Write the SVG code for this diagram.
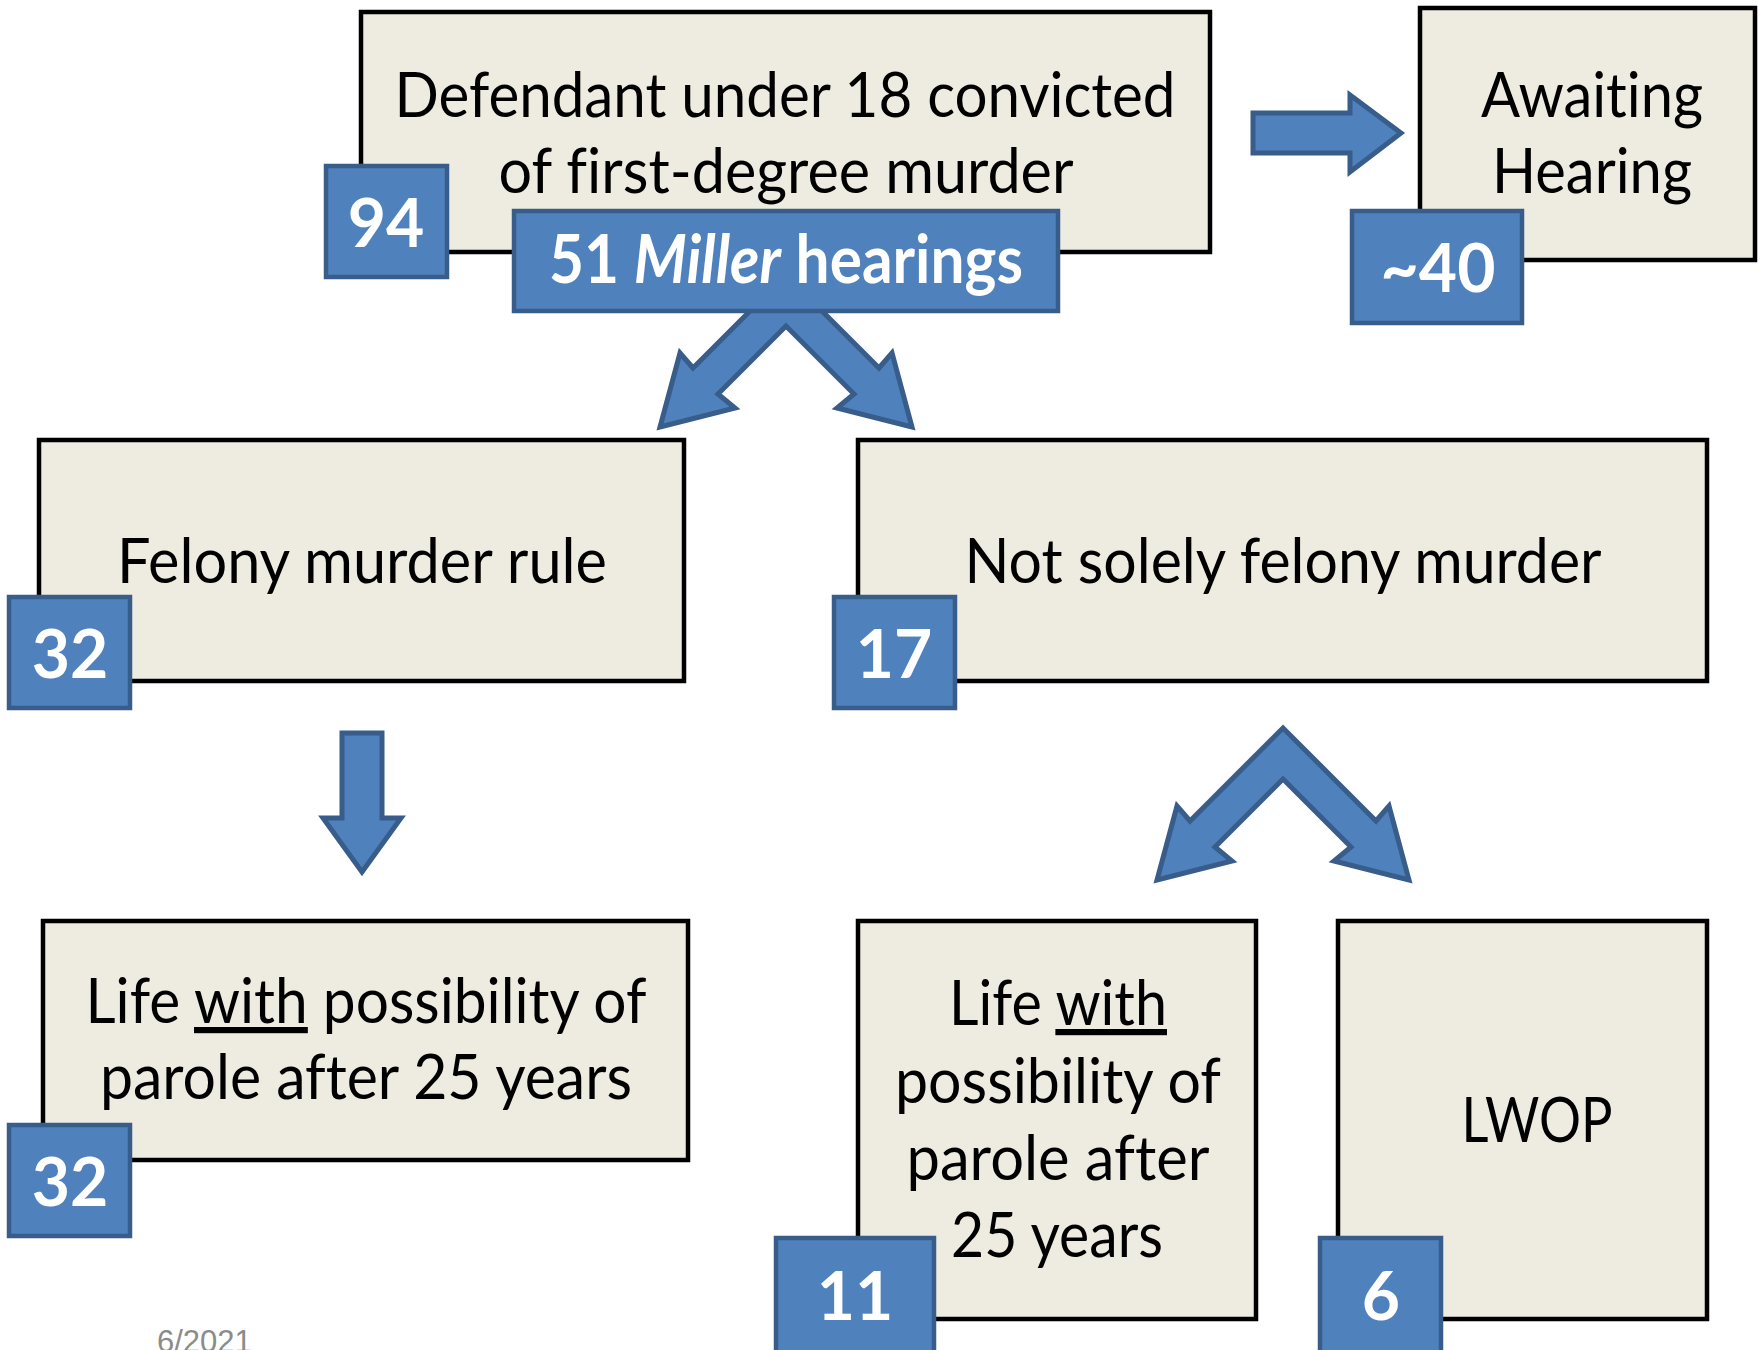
<svg xmlns="http://www.w3.org/2000/svg" width="1759" height="1350" viewBox="0 0 1759 1350">
<style>
.box{fill:#eeece1;stroke:#000;stroke-width:4.5}
.badge{fill:#4f81bd;stroke:#385d8a;stroke-width:4.5}
.arr{fill:#4f81bd;stroke:#385d8a;stroke-width:5;stroke-linejoin:miter}
.t{font-family:Lato,"Liberation Sans",sans-serif;font-size:62px;fill:#000;text-anchor:middle;font-variant-ligatures:none}
.n{font-family:Lato,"Liberation Sans",sans-serif;font-size:66px;font-weight:bold;fill:#fff;text-anchor:middle;font-variant-ligatures:none}
.date{font-family:"Liberation Sans",Arial,sans-serif;font-size:31px;fill:#8b8b8b}
</style>
<defs>
<path id="chev" d="M0,0 L93,93 L106,78 L126,152 L51,133 L68,119 L0,51 L-68,119 L-51,133 L-126,152 L-106,78 L-93,93 Z"/>
</defs>
<g id="connectors">
<use href="#chev" class="arr" transform="translate(786,275)"/>
<use href="#chev" class="arr" transform="translate(1283,728)"/>
<path class="arr" d="M1253,113 H1350 V95 L1401,133 L1350,172 V153 H1253 Z"/>
<path class="arr" d="M342,733 H382 V818 H401 L362,872 L323,818 H342 Z"/>
</g>
<g id="node-defendant">
<rect class="box" x="361" y="12" width="849" height="240"/>
<text class="t" x="785" y="117" textLength="781" lengthAdjust="spacingAndGlyphs">Defendant under 18 convicted</text>
<text class="t" x="786" y="193" textLength="575" lengthAdjust="spacingAndGlyphs">of first-degree murder</text>
<rect class="badge" x="326" y="166" width="121" height="111"/>
<text class="n" x="386" y="247">94</text>
<rect class="badge" x="514" y="211" width="544" height="100"/>
<text class="n" x="786" y="283" font-size="60" textLength="474" lengthAdjust="spacingAndGlyphs">51 <tspan font-style="italic">Miller</tspan> hearings</text>
</g>
<g id="node-awaiting">
<rect class="box" x="1420" y="8" width="335" height="252"/>
<text class="t" x="1592" y="117" textLength="222" lengthAdjust="spacingAndGlyphs">Awaiting</text>
<text class="t" x="1592" y="193" textLength="200" lengthAdjust="spacingAndGlyphs">Hearing</text>
<rect class="badge" x="1352" y="211" width="170" height="112"/>
<text class="n" x="1438" y="292">~40</text>
</g>
<g id="node-felony">
<rect class="box" x="39" y="440" width="645" height="241"/>
<text class="t" x="362" y="583" textLength="490" lengthAdjust="spacingAndGlyphs">Felony murder rule</text>
<rect class="badge" x="9" y="597" width="121" height="111"/>
<text class="n" x="70" y="678">32</text>
</g>
<g id="node-notsolely">
<rect class="box" x="858" y="440" width="849" height="241"/>
<text class="t" x="1283" y="583" textLength="637" lengthAdjust="spacingAndGlyphs">Not solely felony murder</text>
<rect class="badge" x="834" y="597" width="121" height="111"/>
<text class="n" x="894" y="678">17</text>
</g>
<g id="node-life1">
<rect class="box" x="43" y="921" width="645" height="239"/>
<text class="t" x="366" y="1023" textLength="561" lengthAdjust="spacingAndGlyphs">Life <tspan text-decoration="underline">with</tspan> possibility of</text>
<text class="t" x="366" y="1099" textLength="532" lengthAdjust="spacingAndGlyphs">parole after 25 years</text>
<rect class="badge" x="9" y="1125" width="121" height="111"/>
<text class="n" x="70" y="1206">32</text>
</g>
<g id="node-life2">
<rect class="box" x="858" y="921" width="398" height="398"/>
<text class="t" x="1058" y="1025" textLength="218" lengthAdjust="spacingAndGlyphs">Life <tspan text-decoration="underline">with</tspan></text>
<text class="t" x="1058" y="1103" textLength="326" lengthAdjust="spacingAndGlyphs">possibility of</text>
<text class="t" x="1058" y="1180" textLength="303" lengthAdjust="spacingAndGlyphs">parole after</text>
<text class="t" x="1057" y="1257" textLength="212" lengthAdjust="spacingAndGlyphs">25 years</text>
<rect class="badge" x="776" y="1238" width="158" height="116"/>
<text class="n" x="855" y="1320">11</text>
</g>
<g id="node-lwop">
<rect class="box" x="1338" y="921" width="369" height="398"/>
<text class="t" x="1537" y="1142" textLength="151" lengthAdjust="spacingAndGlyphs">LWOP</text>
<rect class="badge" x="1320" y="1238" width="121" height="116"/>
<text class="n" x="1381" y="1320">6</text>
</g>
<text class="date" x="157" y="1352">6/2021</text>
</svg>
